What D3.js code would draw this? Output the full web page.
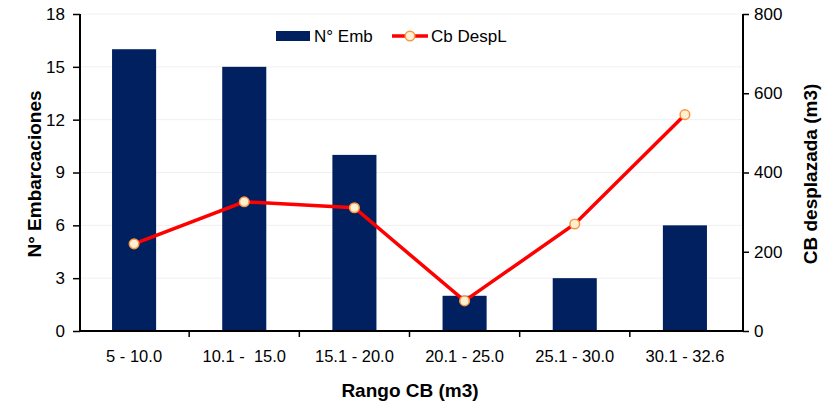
<!DOCTYPE html>
<html><head><meta charset="utf-8">
<script src="https://cdn.jsdelivr.net/npm/d3@7"></script>
<style>body{margin:0;background:#fff}svg{display:block;font-family:"Liberation Sans",Arial,sans-serif}text{white-space:pre}</style>
</head><body>
<svg id="c" width="831" height="403"></svg>
<script>
const categories = ["5 - 10.0", "10.1 -  15.0", "15.1 - 20.0", "20.1 - 25.0", "25.1 - 30.0", "30.1 - 32.6"];
const nEmb = [16, 15, 10, 2, 3, 6];
const cbDesp = [220, 326, 311, 76, 270, 546];
const leftTicks = [0, 3, 6, 9, 12, 15, 18];
const rightTicks = [0, 200, 400, 600, 800];

const svg = d3.select("#c");
const L = 80, R = 743, T = 14, B = 331;
const xb = d3.scaleBand().domain(categories).range([79, 740]);
const yL = d3.scaleLinear().domain([0, 18]).range([B, T]);
const yR = d3.scaleLinear().domain([0, 800]).range([B, T]);

// gridlines
svg.append("g").selectAll("line").data(leftTicks.slice(1)).join("line")
  .attr("x1", L).attr("x2", R).attr("y1", d => yL(d)).attr("y2", d => yL(d))
  .attr("stroke", "#f0f0f0").attr("stroke-width", 1);

// bars
svg.append("g").selectAll("rect").data(nEmb).join("rect")
  .attr("x", (d, i) => xb(categories[i]) + xb.bandwidth() * 0.3)
  .attr("width", xb.bandwidth() * 0.4)
  .attr("y", d => yL(d)).attr("height", d => B - yL(d))
  .attr("fill", "#002060");

// axes
const gl = svg.append("g").attr("transform", `translate(${L},0)`)
  .call(d3.axisLeft(yL).tickValues(leftTicks).tickSize(7).tickPadding(8));
const gr = svg.append("g").attr("transform", `translate(${R},0)`)
  .call(d3.axisRight(yR).tickValues(rightTicks).tickSize(6).tickPadding(5));
const gx = svg.append("g").attr("transform", `translate(0,${B})`)
  .call(d3.axisBottom(xb).tickSize(0).tickPadding(19));
// boundary ticks on x
svg.append("g").selectAll("line").data(d3.range(1, categories.length)).join("line")
  .attr("x1", i => xb.range()[0] + i * xb.step()).attr("x2", i => xb.range()[0] + i * xb.step())
  .attr("y1", B).attr("y2", B + 6).attr("stroke", "#000").attr("stroke-width", 1.5);
[gl, gr, gx].forEach(g => {
  g.selectAll(".domain").attr("stroke", "#000").attr("stroke-width", 2);
  g.selectAll(".tick line").attr("stroke", "#000").attr("stroke-width", 1.5);
  g.selectAll("text").attr("font-size", "17px").attr("fill", "#000")
    .attr("font-family", "'Liberation Sans', Arial, sans-serif");
});
gx.selectAll("text").attr("font-size", "16.5px");
gx.select(".domain").attr("d", `M${L},0H${R}`);
gl.select(".domain").attr("d", `M0,${B}V${T}`);
gr.select(".domain").attr("d", `M0,${B}V${T}`);

// line series
const cx = (d, i) => xb(categories[i]) + xb.bandwidth() / 2;
const line = d3.line().x(cx).y(d => yR(d));
svg.append("path").datum(cbDesp).attr("d", line)
  .attr("fill", "none").attr("stroke", "#ff0000").attr("stroke-width", 3.5);
svg.append("g").selectAll("circle").data(cbDesp).join("circle")
  .attr("cx", cx).attr("cy", d => yR(d))
  .attr("r", 4.8).attr("fill", "#fff0cf").attr("stroke", "#f79646").attr("stroke-width", 1.5);

// titles
svg.append("text").attr("x", 410).attr("y", 397).attr("text-anchor", "middle")
  .attr("font-size", "19px").attr("font-weight", "bold").text("Rango CB (m3)");
svg.append("text").attr("transform", "translate(41,174) rotate(-90)").attr("text-anchor", "middle")
  .attr("font-size", "19px").attr("font-weight", "bold").text("N° Embarcaciones");
svg.append("text").attr("transform", "translate(817,174) rotate(-90)").attr("text-anchor", "middle")
  .attr("font-size", "19px").attr("font-weight", "bold").text("CB desplazada (m3)");

// legend
const lg = svg.append("g");
lg.append("rect").attr("x", 276).attr("y", 31).attr("width", 34).attr("height", 10).attr("fill", "#002060");
lg.append("text").attr("x", 314).attr("y", 42).attr("font-size", "17px").text("N° Emb");
lg.append("line").attr("x1", 392).attr("x2", 428).attr("y1", 36).attr("y2", 36)
  .attr("stroke", "#ff0000").attr("stroke-width", 3.5);
lg.append("circle").attr("cx", 410).attr("cy", 36).attr("r", 4.8)
  .attr("fill", "#fff0cf").attr("stroke", "#f79646").attr("stroke-width", 1.5);
lg.append("text").attr("x", 431).attr("y", 42).attr("font-size", "17px").text("Cb DespL");
</script>
</body></html>
